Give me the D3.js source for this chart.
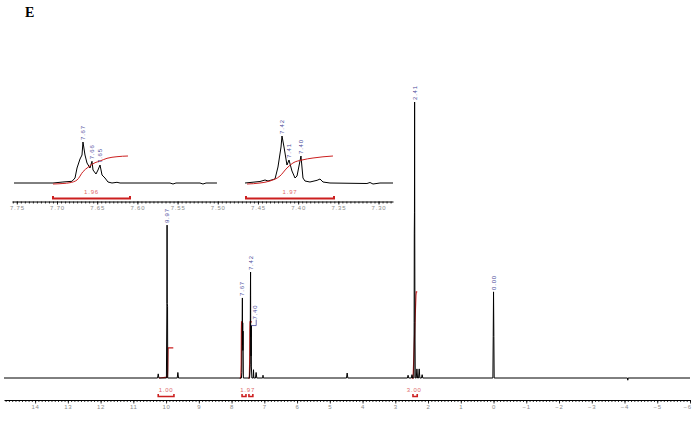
<!DOCTYPE html>
<html><head><meta charset="utf-8">
<script src="https://cdn.jsdelivr.net/npm/d3@7"></script>
<style>body{margin:0;background:#fff}svg{display:block}</style>
</head><body><svg id="c" width="692" height="428"></svg>
<script>
// ---------------- DATA ----------------
// Main 1H spectrum trace (ppm, relative intensity, tallest = 100)
const mainPpm = [14.95,10.26,10.24,10.22,9.99,9.975,9.97,9.965,9.955,9.95,9.66,9.64,9.62,
  7.70,7.685,7.675,7.67,7.665,7.66,7.655,7.65,7.64,7.45,7.43,7.425,7.42,7.415,7.41,7.405,7.40,7.395,7.38,
  7.34,7.33,7.32,7.27,7.25,7.23,7.05,7.04,7.03,4.49,4.47,4.45,2.63,2.61,2.59,2.51,2.49,2.47,
  2.43,2.425,2.42,2.415,2.41,2.405,2.40,2.39,2.36,2.34,2.32,2.29,2.27,2.25,2.20,2.18,2.16,
  0.02,0.01,0.00,-0.01,-0.02,-4.09,-4.10,-4.11,-6.0];
const mainInt = [0,0,1.5,0,0,27,55.4,27,26,0,0,2,0,
  0,2,20,29,12,20,10,17,0,0,5,30,38.4,15,19,8,19,4,0,
  0,3,0,0,2,0,0,1,0,0,1.8,0,0,1,0,0,1.2,0,
  0,20,52.5,60,100,50,20,0,0,3.3,0,0,3.3,0,0,1.2,0,
  0,15,31.2,15,0,0,-0.8,0,0];
// Main integral curves (ppm, height in intensity units)
const mainIntegralPpm = [
  [10.22,9.96,9.95,9.94,9.935,9.78],
  [7.74,7.715,7.705,7.70,7.695,7.66],
  [7.47,7.455,7.445,7.44,7.435,7.38],
  [2.48,2.46,2.45,2.41,2.37,2.36,2.33]];
const mainIntegralVal = [
  [0,0.3,3,10.5,10.9,10.9],
  [-0.3,0.5,5,17,20.3,20.3],
  [-0.3,1,8,17,20.3,20.3],
  [-0.3,0.3,2,16,30,31.2,31.2]];
// Integration regions on the main plot
const mainRegions = [[10.24,9.76],[7.68,7.56],[7.47,7.35],[2.46,2.33]];
const mainRegionLabels = ["1.00","1.97","3.00"];
const mainRegionLabelPpm = [10.0,7.51,2.42];
// Main peak picks
const mainPeakPpm = [9.97,7.67,7.42,7.40,2.41,0.00];
const mainPeakText = ["9.97","7.67","7.42","7.40","2.41","0.00"];
const mainPeakTop = [55.4,29,38.4,19,100,31.2];

// Inset (expanded 7.76 - 7.28 ppm) traces
const inset1Ppm = [7.7535,7.7050,7.6926,7.6814,7.6776,7.6751,7.6714,7.6689,7.6677,7.6652,7.6627,7.6590,7.6565,
  7.6552,7.6515,7.6490,7.6465,7.6440,7.6403,7.6366,7.6316,7.6254,7.6216,7.5594,7.5557,7.5520,7.5221,7.5184,7.5146,7.5010];
const inset1Int = [0,0,1,1.7,5,15,24,28,41,28,20,15,21.7,
  13,9,13,18,8,5,1,0,0.7,0,0,-1,0,0,-1,0,0];
const inset2Ppm = [7.4661,7.4475,7.4412,7.4375,7.4288,7.4251,7.4213,7.4201,7.4176,7.4139,7.4114,7.4077,7.4039,
  7.4014,7.3965,7.3940,7.3915,7.3853,7.3764,7.3728,7.3691,7.3604,7.3144,7.3106,7.3069,7.2982,7.2820];
const inset2Int = [0,1.5,3,2,4,16,36,47,36,18,23,12,5,
  7,27,5,2,1,2.7,4,1,0,-0.5,0.5,-1,0,0];
const insetIntegralPpm = [
  [7.7050,7.6926,7.6839,7.6751,7.6677,7.6615,7.6527,7.6465,7.6378,7.6254,7.6117],
  [7.4636,7.4475,7.4351,7.4226,7.4139,7.4065,7.3952,7.3815,7.3567]];
const insetIntegralVal = [
  [-1,-0.5,0.3,3,11.3,15.7,20.3,22,24.7,26.3,27],
  [-1,0,2,7,15,20,23,25,27]];
const insetRegions = [[7.7050,7.6092],[7.4649,7.3554]];
const insetRegionLabels = ["1.96","1.97"];
const insetPeakPpm = [7.6677,7.6565,7.6465,7.4201,7.4114,7.3965];
const insetPeakText = ["7.67","7.66","7.65","7.42","7.41","7.40"];
const insetPeakTop = [41,21.7,18,47,23,27];

const panelLetter = "E";

// ---------------- DRAW ----------------
const svg = d3.select("#c");
const RED = "#cc1f1f", LRED = "#e06a6a", BLUE = "#4a4a9a", GREY = "#8a8a8a";
const FONT = "'Liberation Sans', Arial, sans-serif";

svg.append("text").attr("x",25).attr("y",17)
  .attr("font-family","'Liberation Serif','Times New Roman',serif")
  .attr("font-weight","bold").attr("font-size",14).attr("fill","#000").text(panelLetter);

// scales
const x = d3.scaleLinear().domain([14.95,-6.0]).range([4,690]);
const y = d3.scaleLinear().domain([0,100]).range([378,102]);
const xi = d3.scaleLinear().domain([7.756,7.282]).range([12,393]);
const yi = d3.scaleLinear().domain([0,50]).range([183,133]);

function styleAxis(g){
  g.selectAll("path.domain").attr("stroke","#000").attr("stroke-width",1);
  g.selectAll(".tick line").attr("stroke","#000").attr("stroke-width",0.8);
  g.selectAll(".tick text").attr("fill",GREY).attr("font-family",FONT)
    .attr("font-size",6).attr("letter-spacing","0.8px");
}

// main axis
const mainMinor = d3.range(-60,150).map(v=>v/10).filter(v=>v<=14.95);
const mainMajor = d3.range(-6,15);
const gMinor = svg.append("g").attr("transform","translate(0,400)")
  .call(d3.axisBottom(x).tickValues(mainMinor).tickSize(2).tickFormat("").tickSizeOuter(0));
styleAxis(gMinor);
const gMajor = svg.append("g").attr("transform","translate(0,400)")
  .call(d3.axisBottom(x).tickValues(mainMajor).tickSize(3.5).tickPadding(1.5).tickFormat(d3.format("d")).tickSizeOuter(0));
styleAxis(gMajor); gMajor.select("path.domain").remove();
// keep the last label (at the right edge) inside the picture
gMajor.selectAll(".tick text").filter(d=>d===-6).attr("text-anchor","end").attr("dx","1.5");

// inset axis
const insMinor = d3.range(7285,7756,5).map(v=>v/1000);
const insMajor = d3.range(7300,7751,50).map(v=>v/1000);
const giMinor = svg.append("g").attr("transform","translate(0,201.5)")
  .call(d3.axisBottom(xi).tickValues(insMinor).tickSize(2).tickFormat("").tickSizeOuter(0));
styleAxis(giMinor);
const giMajor = svg.append("g").attr("transform","translate(0,201.5)")
  .call(d3.axisBottom(xi).tickValues(insMajor).tickSize(3).tickPadding(1.5).tickFormat(d3.format(".2f")).tickSizeOuter(0));
styleAxis(giMajor); giMajor.select("path.domain").remove();

// main integrals (drawn under the trace)
mainIntegralPpm.forEach((arr,k)=>{
  const d = arr.map((p,i)=>[p,mainIntegralVal[k][i]]);
  svg.append("path").datum(d).attr("d", d3.line().x(e=>x(e[0])).y(e=>y(e[1])))
    .attr("fill","none").attr("stroke",RED).attr("stroke-width",1.2);
});

// main spectrum
const mainData = mainPpm.map((p,i)=>[p,mainInt[i]]);
svg.append("path").datum(mainData)
  .attr("d", d3.line().x(d=>x(d[0])).y(d=>y(d[1])))
  .attr("fill","none").attr("stroke","#000").attr("stroke-width",1);

// main integration brackets
function bracket(x0,x1,yy,h,w){
  svg.append("path").attr("d",`M${x0},${yy-h}V${yy}H${x1}V${yy-h}`)
    .attr("fill","none").attr("stroke",RED).attr("stroke-width",w);
}
mainRegions.forEach(r=>bracket(x(r[0]),x(r[1]),396.5,2.5,1.6));
mainRegionLabels.forEach((t,i)=>{
  svg.append("text").attr("x",x(mainRegionLabelPpm[i])).attr("y",392)
    .attr("text-anchor","middle").attr("font-family",FONT).attr("font-size",6)
    .attr("letter-spacing","0.8px").attr("fill",LRED).text(t);
});

// main peak labels
function vlabel(px,py,t){
  svg.append("text").attr("transform",`translate(${px+2},${py})rotate(-90)`)
    .attr("font-family",FONT).attr("font-size",6).attr("letter-spacing","0.8px")
    .attr("fill",BLUE).text(t);
}
mainPeakPpm.forEach((p,i)=>{
  let px = x(p), py = y(mainPeakTop[i]) - 2;
  if (mainPeakText[i]==="7.40"){ // shifted beside the 7.42 line
    px += 4; py = y(mainPeakTop[i]) - 6;
    svg.append("path").attr("d",`M${x(p)},${y(mainPeakTop[i])}H${px+1}V${py}`)
      .attr("fill","none").attr("stroke",BLUE).attr("stroke-width",0.8);
  }
  vlabel(px,py,mainPeakText[i]);
});

// inset traces
[[inset1Ppm,inset1Int],[inset2Ppm,inset2Int]].forEach(([pp,ii])=>{
  const d = pp.map((p,i)=>[p,ii[i]]);
  svg.append("path").datum(d).attr("d", d3.line().x(e=>xi(e[0])).y(e=>yi(e[1])))
    .attr("fill","none").attr("stroke","#000").attr("stroke-width",1);
});
insetIntegralPpm.forEach((arr,k)=>{
  const d = arr.map((p,i)=>[p,insetIntegralVal[k][i]]);
  svg.append("path").datum(d).attr("d", d3.line().curve(d3.curveMonotoneX).x(e=>xi(e[0])).y(e=>yi(e[1])))
    .attr("fill","none").attr("stroke",RED).attr("stroke-width",1);
});
insetRegions.forEach((r,i)=>{
  bracket(xi(r[0]),xi(r[1]),198.5,2.5,2);
  svg.append("text").attr("x",(xi(r[0])+xi(r[1]))/2).attr("y",194)
    .attr("text-anchor","middle").attr("font-family",FONT).attr("font-size",6)
    .attr("letter-spacing","0.8px").attr("fill",LRED).text(insetRegionLabels[i]);
});
insetPeakPpm.forEach((p,i)=>{
  vlabel(xi(p), yi(insetPeakTop[i]) - 2, insetPeakText[i]);
});
</script></body></html>
